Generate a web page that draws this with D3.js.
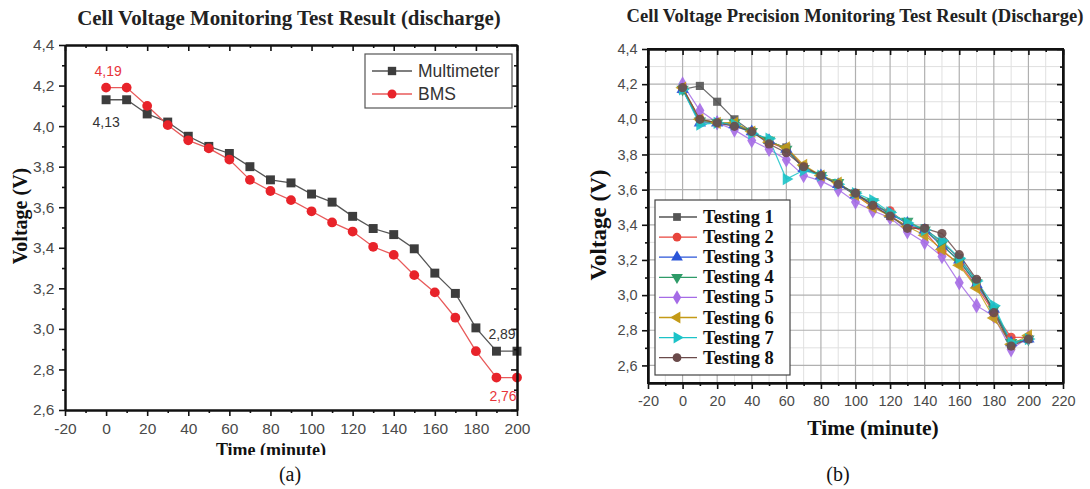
<!DOCTYPE html>
<html><head><meta charset="utf-8">
<script src="https://cdn.jsdelivr.net/npm/d3@7"></script>
<style>body{margin:0;background:#fff}svg{display:block}</style>
</head><body>
<svg id="c" width="1090" height="489"></svg>
<script>
// ---------- DATA ----------
const timesA = [0,10,20,30,40,50,60,70,80,90,100,110,120,130,140,150,160,170,180,190,200];
const multimeter = [4.13,4.13,4.06,4.02,3.95,3.90,3.865,3.80,3.735,3.72,3.665,3.625,3.555,3.495,3.465,3.395,3.275,3.175,3.005,2.89,2.89];
const bms = [4.19,4.19,4.10,4.005,3.93,3.89,3.835,3.735,3.68,3.635,3.58,3.525,3.48,3.405,3.365,3.265,3.18,3.055,2.89,2.76,2.76];
const seriesA = ["Multimeter","BMS"];
const annotA = [{s:0,t:0,label:"4,13"},{s:1,t:0,label:"4,19"},{s:0,t:200,label:"2,89"},{s:1,t:200,label:"2,76"}];

const timesB = [0,10,20,30,40,50,60,70,80,90,100,110,120,130,140,150,160,170,180,190,200];
const testing1 = [4.17,4.19,4.10,4.00,3.93,3.87,3.84,3.73,3.68,3.63,3.58,3.51,3.45,3.39,3.38,3.30,3.21,3.08,2.91,2.72,2.75];
const testing2 = [4.18,4.00,3.98,3.97,3.93,3.87,3.83,3.73,3.68,3.63,3.57,3.50,3.48,3.40,3.36,3.25,3.18,3.05,2.90,2.76,2.76];
const testing3 = [4.17,3.98,3.98,3.97,3.93,3.88,3.83,3.72,3.68,3.63,3.57,3.52,3.46,3.41,3.37,3.28,3.20,3.06,2.92,2.73,2.75];
const testing4 = [4.17,3.99,3.98,3.98,3.93,3.88,3.83,3.72,3.68,3.64,3.57,3.53,3.46,3.42,3.37,3.29,3.19,3.07,2.92,2.73,2.75];
const testing5 = [4.20,4.05,3.98,3.94,3.88,3.83,3.77,3.68,3.65,3.60,3.53,3.48,3.44,3.36,3.30,3.22,3.07,2.94,2.88,2.69,2.76];
const testing6 = [4.18,4.00,3.98,3.98,3.93,3.87,3.84,3.74,3.68,3.64,3.57,3.50,3.45,3.39,3.34,3.26,3.17,3.04,2.87,2.72,2.77];
const testing7 = [4.17,3.97,3.98,3.97,3.92,3.89,3.66,3.71,3.68,3.63,3.58,3.54,3.47,3.41,3.37,3.31,3.21,3.08,2.94,2.73,2.75];
const testing8 = [4.18,4.00,3.98,3.96,3.93,3.86,3.81,3.73,3.68,3.63,3.58,3.51,3.45,3.38,3.38,3.35,3.23,3.09,2.90,2.71,2.75];
const seriesB = ["Testing 1","Testing 2","Testing 3","Testing 4","Testing 5","Testing 6","Testing 7","Testing 8"];
const valuesB = [testing1,testing2,testing3,testing4,testing5,testing6,testing7,testing8];

const xTicksA = [-20,0,20,40,60,80,100,120,140,160,180,200];
const yTicks = [2.6,2.8,3.0,3.2,3.4,3.6,3.8,4.0,4.2,4.4];
const xTicksB = [-20,0,20,40,60,80,100,120,140,160,180,200,220];

// ---------- STYLE ----------
const colA = {line:["#555","#e85a5a"], mark:["#3d3d3d","#e8232a"]};
const colB = ["#555555","#e8453c","#2a55d8","#2e9b68","#a56be6","#c49a16","#1cc3c8","#6a4a4a"];
const symB = [
  {t:d3.symbolSquare,r:0},{t:d3.symbolCircle,r:0},{t:d3.symbolTriangle,r:0},{t:d3.symbolTriangle,r:180},
  {t:d3.symbolDiamond,r:0},{t:d3.symbolTriangle,r:-90},{t:d3.symbolTriangle,r:90},{t:d3.symbolCircle,r:0}];
const fmt = v => d3.format(".1f")(v).replace(".", ",");
const serif = "'Liberation Serif','Times New Roman',serif";
const sans = "'Liberation Sans',Arial,sans-serif";

const svg = d3.select("#c");

function fitText(sel, width){
  const w = sel.node().getComputedTextLength();
  const fs = parseFloat(sel.attr("font-size"));
  sel.attr("font-size", fs*width/w);
}

function frame(g, x, y, opts){
  const [x0,x1] = x.range(), [y0,y1] = y.range();
  const minorX = [], minorY = [];
  for(let v=x.domain()[0]+10; v<x.domain()[1]; v+=20) minorX.push(v);
  for(let v=y.domain()[0]; v<y.domain()[1]; v+=0.1){ const r=Math.round(v*10)/10; if(!yTicks.includes(r) && r>y.domain()[0]) minorY.push(r); }
  if(opts.grid){
    const gg = g.append("g");
    gg.selectAll(".mx").data(minorX).join("line").attr("x1",d=>x(d)).attr("x2",d=>x(d)).attr("y1",y0).attr("y2",y1).attr("stroke","#e0e0e0").attr("stroke-width",1);
    gg.selectAll(".my").data(minorY).join("line").attr("y1",d=>y(d)).attr("y2",d=>y(d)).attr("x1",x0).attr("x2",x1).attr("stroke","#e0e0e0").attr("stroke-width",1);
    gg.selectAll(".Mx").data(opts.xTicks.slice(1,-1)).join("line").attr("x1",d=>x(d)).attr("x2",d=>x(d)).attr("y1",y0).attr("y2",y1).attr("stroke","#b0b0b0").attr("stroke-width",1.2);
    gg.selectAll(".My").data(yTicks.filter(v=>v>y.domain()[0] && v<y.domain()[1])).join("line").attr("y1",d=>y(d)).attr("y2",d=>y(d)).attr("x1",x0).attr("x2",x1).attr("stroke","#b0b0b0").attr("stroke-width",1.2);
  }
  const ax = (gen, tr, vals, size, labels) => {
    const a = g.append("g").attr("transform", tr).call(gen.tickValues(vals).tickSize(size).tickSizeOuter(0).tickFormat(labels?labels:""));
    a.select(".domain").attr("stroke","#111").attr("stroke-width",2);
    a.selectAll(".tick line").attr("stroke","#111").attr("stroke-width",1.6);
    a.selectAll("text").attr("font-family",sans).attr("font-size",opts.tickFs).attr("fill","#4a4a4a");
    return a;
  };
  const xt = opts.xTicks;
  ax(d3.axisBottom(x), `translate(0,${y0})`, minorX, 3);
  ax(d3.axisBottom(x), `translate(0,${y0})`, xt, 6, d=>d).selectAll("text").attr("dy","0.95em");
  ax(d3.axisTop(x), `translate(0,${y1})`, minorX, -3);
  ax(d3.axisTop(x), `translate(0,${y1})`, xt, -6);
  ax(d3.axisLeft(y), `translate(${x0},0)`, minorY, 3);
  ax(d3.axisLeft(y), `translate(${x0},0)`, yTicks, 6, fmt).selectAll("text").attr("dx","-0.1em");
  ax(d3.axisRight(y), `translate(${x1},0)`, minorY, -3);
  ax(d3.axisRight(y), `translate(${x1},0)`, yTicks, -6);
}

// ---------- CHART A ----------
{
  const x = d3.scaleLinear([-20,200],[65,517]);
  const y = d3.scaleLinear([2.6,4.4],[410,45]);
  const g = svg.append("g");
  const dataA = [multimeter,bms];
  const line = d3.line().x((d,i)=>x(timesA[i])).y(d=>y(d));
  dataA.forEach((vals,s)=>{
    g.append("path").attr("d",line(vals)).attr("fill","none").attr("stroke",colA.line[s]).attr("stroke-width",1.3);
  });
  dataA.forEach((vals,s)=>{
    const sym = d3.symbol().type(s===0?d3.symbolSquare:d3.symbolCircle).size(s===0?80:75);
    g.selectAll(null).data(vals).join("path").attr("d",sym).attr("transform",(d,i)=>`translate(${x(timesA[i])},${y(d)})`).attr("fill",colA.mark[s]);
  });
  frame(g, x, y, {grid:false, xTicks:xTicksA, tickFs:15.5});
  const an = [
    {dx:0, dy:27}, {dx:2, dy:-12}, {dx:-15, dy:-12}, {dx:-14, dy:23}];
  annotA.forEach((a,k)=>{
    const vals = a.s===0?multimeter:bms;
    const i = timesA.indexOf(a.t);
    g.append("text").attr("x",x(a.t)+an[k].dx).attr("y",y(vals[i])+an[k].dy).attr("text-anchor","middle")
      .attr("font-family",sans).attr("font-size",14).attr("fill",a.s===0?"#333":"#e8343a").text(a.label);
  });
  const lg = g.append("g");
  lg.append("rect").attr("x",365).attr("y",54).attr("width",147).attr("height",54).attr("fill","#fff").attr("stroke","#555").attr("stroke-width",1.2);
  seriesA.forEach((name,s)=>{
    const yy = 71 + s*23;
    lg.append("line").attr("x1",372).attr("x2",412).attr("y1",yy).attr("y2",yy).attr("stroke",colA.line[s]).attr("stroke-width",1.3);
    lg.append("path").attr("d",d3.symbol().type(s===0?d3.symbolSquare:d3.symbolCircle).size(s===0?70:64)()).attr("transform",`translate(392,${yy})`).attr("fill",colA.mark[s]);
    lg.append("text").attr("x",418).attr("y",yy+6).attr("font-family",sans).attr("font-size",17.5).attr("fill","#333").text(name);
  });
  const t = svg.append("text").attr("x",289).attr("y",25).attr("text-anchor","middle").attr("font-family",serif).attr("font-weight","bold").attr("font-size",17).attr("fill","#222").text("Cell Voltage Monitoring Test Result (discharge)");
  fitText(t, 424);
  svg.append("text").attr("transform","translate(27,216) rotate(-90)").attr("text-anchor","middle").attr("font-family",serif).attr("font-weight","bold").attr("font-size",20).attr("fill","#111").text("Voltage (V)");
  svg.append("clipPath").attr("id","clipA").append("rect").attr("x",150).attr("y",430).attr("width",250).attr("height",25);
  svg.append("text").attr("x",271).attr("y",456).attr("text-anchor","middle").attr("clip-path","url(#clipA)").attr("font-family",serif).attr("font-weight","bold").attr("font-size",18).attr("fill","#111").text("Time (minute)");
  svg.append("text").attr("x",290).attr("y",481).attr("text-anchor","middle").attr("font-family",serif).attr("font-size",20).attr("fill","#111").text("(a)");
}

// ---------- CHART B ----------
{
  const x = d3.scaleLinear([-20,220],[648,1063]);
  const y = d3.scaleLinear([2.5,4.4],[383,49]);
  const g = svg.append("g");
  frame(g, x, y, {grid:true, xTicks:xTicksB, tickFs:14.5});
  const line = d3.line().x((d,i)=>x(timesB[i])).y(d=>y(d));
  valuesB.forEach((vals,s)=>{
    g.append("path").attr("d",line(vals)).attr("fill","none").attr("stroke",colB[s]).attr("stroke-width",1.2).attr("stroke-opacity",0.85);
  });
  valuesB.forEach((vals,s)=>{
    const sym = d3.symbol().type(symB[s].t).size(symB[s].t===d3.symbolDiamond?70:66);
    g.selectAll(null).data(vals).join("path").attr("d",sym).attr("transform",(d,i)=>`translate(${x(timesB[i])},${y(d)}) rotate(${symB[s].r})`).attr("fill",colB[s]).attr("fill-opacity",0.9);
  });
  g.append("rect").attr("x",648).attr("y",49).attr("width",415).attr("height",334).attr("fill","none").attr("stroke","#111").attr("stroke-width",2);
  const lg = g.append("g");
  lg.append("rect").attr("x",655).attr("y",200).attr("width",135).attr("height",175).attr("fill","#fff").attr("stroke","#444").attr("stroke-width",1.2);
  seriesB.forEach((name,s)=>{
    const yy = 217 + s*20.1;
    lg.append("line").attr("x1",659).attr("x2",697).attr("y1",yy).attr("y2",yy).attr("stroke",colB[s]).attr("stroke-width",1.3);
    lg.append("path").attr("d",d3.symbol().type(symB[s].t).size(60)()).attr("transform",`translate(677,${yy}) rotate(${symB[s].r})`).attr("fill",colB[s]);
    lg.append("text").attr("x",703).attr("y",yy+6).attr("font-family",serif).attr("font-weight","bold").attr("font-size",18.5).attr("fill","#111").text(name);
  });
  const t = svg.append("text").attr("x",855).attr("y",22).attr("text-anchor","middle").attr("font-family",serif).attr("font-weight","bold").attr("font-size",15).attr("fill","#222").text("Cell Voltage Precision Monitoring Test Result (Discharge)");
  fitText(t, 457);
  svg.append("text").attr("transform","translate(606,225) rotate(-90)").attr("text-anchor","middle").attr("font-family",serif).attr("font-weight","bold").attr("font-size",23).attr("fill","#111").text("Voltage (V)");
  svg.append("text").attr("x",873).attr("y",435).attr("text-anchor","middle").attr("font-family",serif).attr("font-weight","bold").attr("font-size",21.5).attr("fill","#111").text("Time (minute)");
  svg.append("text").attr("x",838).attr("y",481).attr("text-anchor","middle").attr("font-family",serif).attr("font-size",20).attr("fill","#111").text("(b)");
}
</script>
</body></html>
